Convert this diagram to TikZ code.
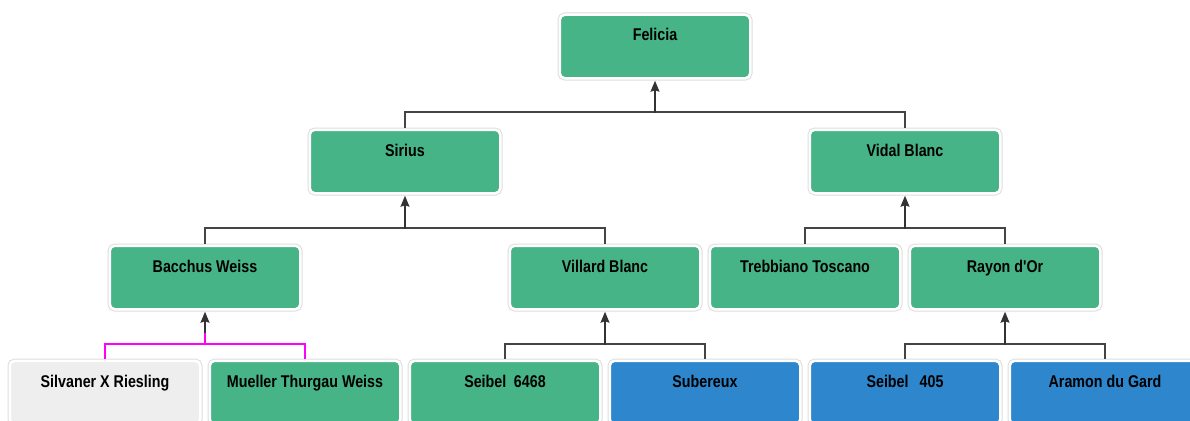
\documentclass[tikz,border=0pt]{standalone}
\usepackage{fontspec}
\usepackage{tikz}
\usetikzlibrary{arrows.meta}
\newfontfamily\vinefont{Liberation Sans}[FakeStretch=0.84]

\tikzset{
	vine/.style={rectangle, rounded corners=5pt, minimum width=190.5pt, inner xsep=0pt,
		inner ysep=8.25pt, text height=18pt, text depth=29pt, outer sep=2.5pt,
		font=\vinefont\fontsize{17pt}{17pt}\bfseries\selectfont, text=black,
		preaction={draw=custcol_dd_dd_dd, line width=4.5pt}, draw=white, line width=2.5pt},
	vinegreen/.style={vine, fill=custcol_47_b4_87},
	vineblue/.style={vine, fill=custcol_2e_86_cd},
	vinegray/.style={vine, fill=custcol_ee_ee_ee},
	wire/.style={draw=custcol_44_44_44, line width=1.3pt, line cap=rect},
	wirepink/.style={draw=custcol_ff_00_ff, line width=1.8pt, line cap=rect},
	tip/.style={-{Stealth[length=11pt,width=9pt,inset=1.5pt]}, custcol_33_33_33}
}

\begin{document}
\begin{tikzpicture}[x=1pt,y=-1pt]
					\definecolor{custcol_47_b4_87}{RGB}{71, 180, 135}
					\definecolor{custcol_2e_86_cd}{RGB}{46, 134, 205}
					\definecolor{custcol_ee_ee_ee}{RGB}{238, 238, 238}
					\definecolor{custcol_dd_dd_dd}{RGB}{221, 221, 221}
					\definecolor{custcol_44_44_44}{RGB}{68, 68, 68}
					\definecolor{custcol_33_33_33}{RGB}{51, 51, 51}
					\definecolor{custcol_ff_00_ff}{RGB}{255, 0, 255}
					\useasboundingbox (0.0,0.0) rectangle (1190.0,420.0);
					% boxes
					\node[vinegreen] (felicia) at (655.0,46.5) {Felicia};
					\node[vinegreen] (sirius) at (405.0,161.5) {Sirius};
					\node[vinegreen] (vidal) at (905.0,161.5) {Vidal Blanc};
					\node[vinegreen] (bacchus) at (205.0,277.5) {Bacchus Weiss};
					\node[vinegreen] (villard) at (605.0,277.5) {Villard Blanc};
					\node[vinegreen] (trebbiano) at (805.0,277.5) {Trebbiano Toscano};
					\node[vinegreen] (rayon) at (1005.0,277.5) {Rayon d'Or};
					\node[vinegray] (silvaner) at (105.0,392.5) {Silvaner X Riesling};
					\node[vinegreen] (mueller) at (305.0,392.5) {Mueller Thurgau Weiss};
					\node[vinegreen] (seibelA) at (505.0,392.5) {Seibel\hspace{0.45em}6468};
					\node[vineblue] (subereux) at (705.0,392.5) {Subereux};
					\node[vineblue] (seibelB) at (905.0,392.5) {Seibel\hspace{0.65em}405};
					\node[vineblue] (aramon) at (1105.0,392.5) {Aramon du Gard};
					% bus points
					\coordinate (busfelicia) at (655.0,112.0);
					\coordinate (bussirius) at (405.0,228.0);
					\coordinate (busvidal) at (905.0,228.0);
					\coordinate (busbacchus) at (205.0,344.0);
					\coordinate (busvillard) at (605.0,344.0);
					\coordinate (busrayon) at (1005.0,344.0);
					% connectors
					\draw[wire] (sirius.north) |- (busfelicia) -| (vidal.north);
					\draw[wire, tip] (busfelicia) -- (felicia.south);
					\draw[wire] (bacchus.north) |- (bussirius) -| (villard.north);
					\draw[wire, tip] (bussirius) -- (sirius.south);
					\draw[wire] (trebbiano.north) |- (busvidal) -| (rayon.north);
					\draw[wire, tip] (busvidal) -- (vidal.south);
					\draw[wirepink] (silvaner.north) |- (busbacchus) -| (mueller.north);
					\draw[wirepink] (busbacchus) -- ++(0,-14);
					\draw[wire, tip] (busbacchus) ++(0,-12) -- (bacchus.south);
					\draw[wire] (seibelA.north) |- (busvillard) -| (subereux.north);
					\draw[wire, tip] (busvillard) -- (villard.south);
					\draw[wire] (seibelB.north) |- (busrayon) -| (aramon.north);
					\draw[wire, tip] (busrayon) -- (rayon.south);
				\end{tikzpicture}
\end{document}
